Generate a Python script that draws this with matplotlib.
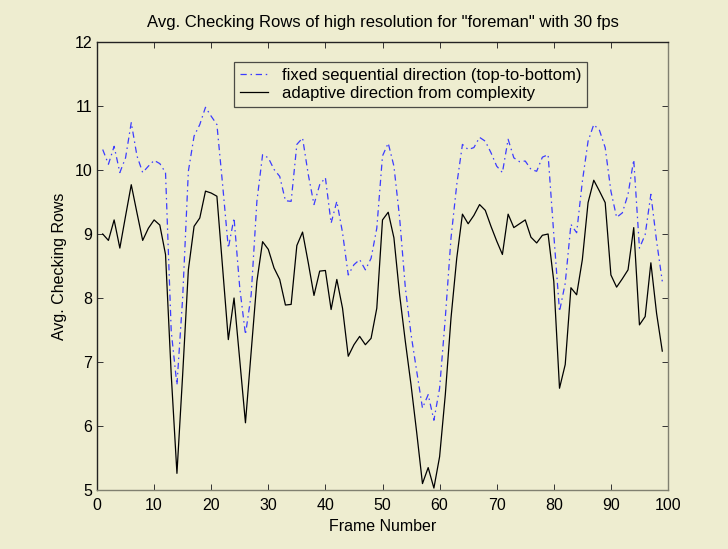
import numpy as np
import matplotlib
matplotlib.use("Agg")
from matplotlib import pyplot as plt

plt.rcParams['font.family'] = ['Liberation Sans', 'DejaVu Sans']

# frame numbers 1..99
frames = np.arange(1, 100)

# fixed sequential direction (top-to-bottom)
fixed_rows = [
    10.32, 10.09, 10.37, 9.96, 10.19, 10.74, 10.22, 9.96, 10.06, 10.15,
    10.10, 9.96, 7.48, 6.64, 8.00, 9.98, 10.53, 10.71, 10.98, 10.84,
    10.71, 9.77, 8.78, 9.25, 8.16, 7.43, 8.05, 9.51, 10.24, 10.19,
    10.01, 9.90, 9.52, 9.51, 10.40, 10.50, 9.93, 9.46, 9.77, 9.88,
    9.17, 9.51, 9.02, 8.36, 8.52, 8.60, 8.44, 8.62, 9.09, 10.22,
    10.42, 10.06, 9.25, 8.16, 7.43, 6.85, 6.28, 6.49, 6.09, 6.59,
    7.69, 8.94, 9.77, 10.40, 10.32, 10.35, 10.51, 10.45, 10.27, 10.06,
    9.96, 10.48, 10.19, 10.13, 10.14, 10.01, 9.98, 10.20, 10.24, 8.99,
    7.79, 8.23, 9.15, 9.02, 9.82, 10.45, 10.71, 10.62, 10.35, 9.67,
    9.26, 9.33, 9.62, 10.16, 8.78, 8.99, 9.62, 8.89, 8.26,
]

# adaptive direction from complexity
adaptive_rows = [
    9.00, 8.90, 9.22, 8.78, 9.28, 9.77, 9.33, 8.90, 9.09, 9.22,
    9.14, 8.68, 6.80, 5.26, 6.80, 8.44, 9.12, 9.25, 9.67, 9.64,
    9.59, 8.47, 7.35, 8.00, 7.03, 6.05, 7.16, 8.26, 8.88, 8.76,
    8.47, 8.29, 7.89, 7.90, 8.82, 9.03, 8.55, 8.04, 8.42, 8.43,
    7.82, 8.29, 7.84, 7.09, 7.27, 7.40, 7.27, 7.37, 7.84, 9.22,
    9.34, 8.94, 8.05, 7.32, 6.64, 5.89, 5.10, 5.35, 5.03, 5.52,
    6.49, 7.69, 8.62, 9.31, 9.16, 9.29, 9.46, 9.37, 9.12, 8.89,
    8.68, 9.31, 9.10, 9.16, 9.22, 8.95, 8.86, 8.98, 9.00, 8.26,
    6.59, 6.96, 8.16, 8.05, 8.60, 9.49, 9.84, 9.67, 9.49, 8.36,
    8.17, 8.30, 8.44, 9.10, 7.58, 7.71, 8.55, 7.76, 7.17,
]

bg = '#eeedd0'

fig = plt.figure(figsize=(7.28, 5.49), dpi=100, facecolor=bg)
ax = fig.add_axes([97 / 728, 1 - 490 / 549, 571 / 728, 448 / 549])
ax.set_facecolor(bg)

ax.plot(frames, fixed_rows, color='#3c3cff', lw=0.9, dashes=[5, 3, 1.2, 3],
        label='fixed sequential direction (top-to-bottom)')
ax.plot(frames, adaptive_rows, color='black', lw=0.9,
        label='adaptive direction from complexity')

ax.set_xlim(0, 100)
ax.set_ylim(5, 12)
ax.set_xticks(np.arange(0, 101, 10))
ax.set_yticks(np.arange(5, 13, 1))
ax.tick_params(direction='in', top=True, right=True, length=4, labelsize=11.5,
               width=0.7, color='#333333')
ax.tick_params(axis='x', pad=6)

for side in ['left', 'top']:
    ax.spines[side].set_color('#222222')
for side in ['right', 'bottom']:
    ax.spines[side].set_color('#808070')
for sp in ax.spines.values():
    sp.set_linewidth(1.0)

ax.set_title('Avg. Checking Rows of high resolution for "foreman" with 30 fps',
             fontsize=12, pad=11)
ax.set_xlabel('Frame Number', fontsize=11.5, labelpad=4)
ax.set_ylabel('Avg. Checking Rows', fontsize=11.5, labelpad=5)

leg = ax.legend(loc='upper left', bbox_to_anchor=(0.240, 0.955), fontsize=12,
                frameon=True, fancybox=False, handlelength=1.7,
                borderpad=0.35, labelspacing=0.2, handletextpad=0.8,
                borderaxespad=0)
leg.get_frame().set_facecolor(bg)
leg.get_frame().set_edgecolor('#222222')
leg.get_frame().set_linewidth(0.9)

fig.savefig('out.png', dpi=100, facecolor=bg)
